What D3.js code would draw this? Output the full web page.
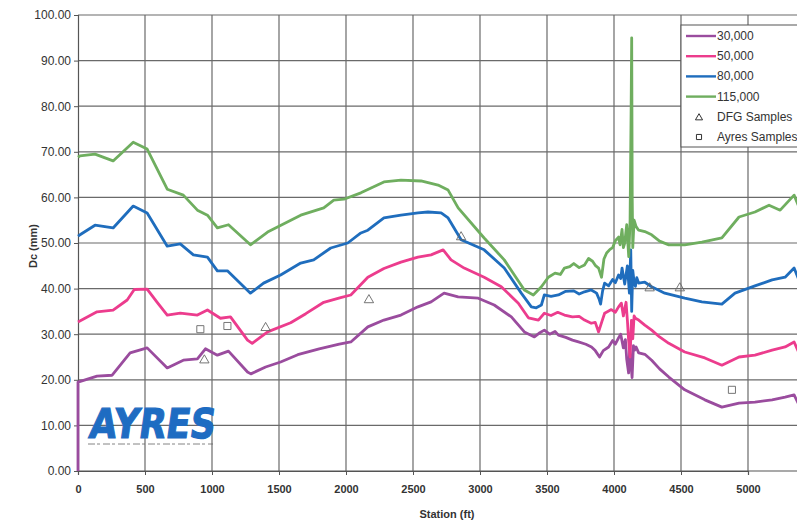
<!DOCTYPE html>
<html>
<head>
<meta charset="utf-8">
<script src="https://cdn.jsdelivr.net/npm/d3@7"></script>
<style>
  body { margin: 0; background: #fff; }
  svg { display: block; font-family: "Liberation Sans", Arial, sans-serif; }
</style>
</head>
<body>
<svg id="chart" width="797" height="524"></svg>
<script>
// [station (ft), Dc (mm)]
const flow30k = [[0,0],[0,19.5],[142,20.8],[255,21],[389,25.9],[516,27],[666,22.6],[786,24.3],[891,24.6],[951,26.8],[1040,25.4],[1123,26.3],[1265,21.7],[1290,21.3],[1400,22.8],[1512,23.9],[1640,25.5],[1800,26.8],[1950,27.8],[2036,28.3],[2163,31.6],[2283,33.1],[2410,34.2],[2537,36],[2635,37.1],[2732,39],[2837,38.2],[2987,37.9],[3106,36.4],[3234,33.8],[3331,30.5],[3406,29.4],[3440,30.2],[3480,30.9],[3520,30],[3560,30.6],[3585,29.8],[3640,29.3],[3690,28.7],[3735,28.3],[3790,27.8],[3832,27.2],[3860,26.4],[3892,25],[3920,26.4],[3960,27.2],[3990,28.6],[4010,27.8],[4034,29.2],[4050,30],[4070,27],[4085,28.8],[4095,24.5],[4109,21.5],[4118,27],[4125,24],[4135,20.5],[4145,27.5],[4154,26.5],[4165,27.2],[4184,25.9],[4230,25.6],[4281,24.3],[4340,22.4],[4409,20.6],[4528,17.8],[4678,15.6],[4805,14],[4933,14.9],[5052,15.1],[5180,15.6],[5277,16.2],[5344,16.7],[5380,14.5]];
const flow50k = [[0,32.7],[142,34.9],[262,35.3],[367,37.5],[420,39.8],[516,39.9],[591,37],[666,34.2],[763,34.6],[891,34.2],[966,35.3],[1063,33.5],[1138,33.8],[1265,28.7],[1300,28],[1415,30.5],[1587,32.5],[1700,34.5],[1834,37],[1960,38],[2036,38.6],[2163,42.5],[2283,44.4],[2410,45.8],[2537,46.9],[2635,47.4],[2725,48.5],[2784,46.3],[2882,44.5],[3031,42.5],[3159,40.4],[3286,36.8],[3361,33.6],[3436,33.1],[3480,34.6],[3530,34.1],[3580,34.8],[3630,34.2],[3690,33.8],[3740,33.9],[3780,33.1],[3830,32.4],[3860,32.6],[3885,30.5],[3910,32.8],[3930,34.6],[3980,35.4],[4010,34.8],[4034,36],[4055,36.8],[4070,34],[4090,37],[4100,33],[4109,28.7],[4120,25],[4130,33],[4140,29],[4150,34],[4160,33.5],[4184,33.1],[4230,32],[4281,30.9],[4340,29.4],[4409,28],[4528,26.1],[4678,24.8],[4805,23.2],[4933,25],[5052,25.4],[5180,26.5],[5277,27.2],[5344,28.3],[5380,25.9]];
const flow80k = [[0,51.5],[15,51.8],[127,53.9],[262,53.3],[412,58.1],[516,56.6],[666,49.3],[763,49.8],[861,47.4],[966,46.9],[1040,43.9],[1115,43.9],[1287,39],[1385,41.2],[1512,43],[1662,45.6],[1759,46.3],[1886,48.9],[2013,50],[2111,52.2],[2163,52.8],[2283,55.5],[2410,56.1],[2537,56.6],[2612,56.8],[2710,56.6],[2762,55.5],[2859,50.7],[3031,48.5],[3181,44.5],[3308,39],[3383,36],[3420,35.8],[3458,36.4],[3480,38.6],[3530,38.3],[3585,38.6],[3640,39.4],[3700,39.5],[3740,38.8],[3780,39.3],[3830,39.7],[3870,39],[3890,37.6],[3900,36.6],[3915,39.5],[3930,41.2],[3960,40.6],[3990,42],[4010,41.3],[4034,43],[4050,42.2],[4060,44.5],[4080,41],[4100,45],[4115,39],[4125,48.5],[4132,35],[4140,44],[4150,41.5],[4160,40.5],[4170,42.4],[4184,41.2],[4230,41.4],[4281,40.4],[4379,39],[4528,37.9],[4656,37.1],[4805,36.6],[4903,39],[5052,40.6],[5180,41.9],[5277,42.5],[5344,44.5],[5380,41.9]];
const flow115k = [[0,68.8],[15,69.1],[127,69.5],[262,68],[412,72.1],[516,70.6],[666,61.8],[786,60.5],[891,57.2],[966,56.1],[1040,53.3],[1123,54],[1287,49.6],[1415,52.4],[1662,56.1],[1834,57.7],[1909,59.4],[1984,59.6],[2111,61],[2283,63.4],[2410,63.8],[2560,63.6],[2687,62.7],[2762,61.6],[2837,57.7],[3031,51.1],[3181,46.3],[3331,39.7],[3398,38.6],[3458,40.4],[3510,42.5],[3560,43.4],[3600,43.1],[3630,44.5],[3670,44.8],[3700,45.5],[3740,44.6],[3780,45.2],[3810,46.6],[3840,46],[3860,45.1],[3885,44.5],[3907,42.5],[3925,46.5],[3945,47.8],[3970,48.6],[3990,49],[4010,50.5],[4034,51.3],[4045,49.6],[4060,53],[4070,49],[4080,50],[4095,54],[4110,47],[4120,55],[4128,80],[4132,95],[4136,60],[4140,49],[4150,55],[4165,53.6],[4184,52.8],[4230,52.5],[4281,51.8],[4340,50.4],[4409,49.6],[4528,49.6],[4656,50.2],[4805,51.1],[4933,55.7],[5052,56.8],[5157,58.3],[5240,57.2],[5344,60.5],[5380,57.9]];

const dfgSamples = [[943,24.3],[1400,31.4],[2171,37.5],[2859,51.3],[4266,40.1],[4491,40.1]];
const ayresSamples = [[913,31.1],[1115,31.8],[4880,17.8]];

const seriesNames = ['30,000', '50,000', '80,000', '115,000'];
const seriesData = [flow30k, flow50k, flow80k, flow115k];
const seriesColors = ['#9a4c9e', '#ec3c8d', '#1f6dbd', '#6fae5f'];

const xTicks = d3.range(0, 5001, 500);
const yTicks = d3.range(0, 101, 10);

const svg = d3.select('#chart');
const x = d3.scaleLinear().domain([0, 5000]).range([78, 748]);
const y = d3.scaleLinear().domain([0, 100]).range([471, 15]);
const right = 797;

// grid
const grid = svg.append('g').attr('class', 'grid');
grid.selectAll('.hgrid')
  .data(yTicks.filter(d => d > 0))
  .enter()
  .append('line')
  .attr('x1', x(0))
  .attr('x2', right)
  .attr('y1', d => y(d))
  .attr('y2', d => y(d))
  .attr('stroke', '#6a6a6a')
  .attr('stroke-width', 1.2);
grid.selectAll('.vgrid')
  .data(xTicks.filter(d => d > 0))
  .enter()
  .append('line')
  .attr('x1', d => x(d))
  .attr('x2', d => x(d))
  .attr('y1', y(100))
  .attr('y2', y(0))
  .attr('stroke', '#6a6a6a')
  .attr('stroke-width', 1.2);

// axes
const yAxis = svg.append('g')
  .attr('transform', `translate(${x(0)},0)`)
  .call(d3.axisLeft(y).tickValues(yTicks).tickFormat(d3.format('.2f')).tickSize(4).tickPadding(3));
const xAxis = svg.append('g')
  .attr('transform', `translate(0,${y(0)})`)
  .call(d3.axisBottom(x).tickValues(xTicks).tickFormat(d3.format('d')).tickSize(4).tickPadding(10));
svg.append('line')
  .attr('x1', x(0)).attr('x2', right)
  .attr('y1', y(0)).attr('y2', y(0))
  .attr('stroke', '#555').attr('stroke-width', 1.2);

[yAxis, xAxis].forEach(a => {
  a.select('.domain').attr('stroke', '#555').attr('stroke-width', 1.2);
  a.selectAll('.tick line').attr('stroke', '#555');
  a.selectAll('.tick text').attr('fill', '#333').style('font-family', '"Liberation Sans", Arial, sans-serif');
});
yAxis.selectAll('.tick text').style('font-size', '12px');
xAxis.selectAll('.tick text').style('font-size', '11px').style('font-weight', 'bold');

svg.append('text')
  .attr('x', 447)
  .attr('y', 518)
  .attr('text-anchor', 'middle')
  .attr('fill', '#333')
  .style('font-size', '11px')
  .style('font-weight', 'bold')
  .text('Station (ft)');
svg.append('text')
  .attr('transform', 'translate(37,246) rotate(-90)')
  .attr('text-anchor', 'middle')
  .attr('fill', '#333')
  .style('font-size', '11px')
  .style('font-weight', 'bold')
  .text('Dc (mm)');

// logo
const logo = svg.append('g').attr('transform', 'translate(88,438) skewX(-8)');
logo.append('text')
  .attr('x', 0)
  .attr('y', 0)
  .attr('fill', '#1e6cc2')
  .attr('stroke', '#1e6cc2')
  .attr('stroke-width', 1.2)
  .attr('textLength', 126)
  .attr('lengthAdjust', 'spacingAndGlyphs')
  .style('font-family', '"DejaVu Sans", sans-serif')
  .style('font-size', '41px')
  .style('font-weight', 'bold')
  .text('AYRES');
svg.append('line')
  .attr('x1', 88).attr('x2', 213)
  .attr('y1', 444).attr('y2', 444)
  .attr('stroke', '#666')
  .attr('stroke-width', 0.8)
  .attr('stroke-dasharray', '7,2,3,3');

// series lines
const line = d3.line().x(d => x(d[0])).y(d => y(d[1]));
svg.append('g')
  .selectAll('path')
  .data(seriesData)
  .enter()
  .append('path')
  .attr('d', line)
  .attr('fill', 'none')
  .attr('stroke', (d, i) => seriesColors[i])
  .attr('stroke-width', 2.8)
  .attr('stroke-linejoin', 'round');

// samples
const tri = d3.symbol().type(d3.symbolTriangle).size(38);
const sq = d3.symbol().type(d3.symbolSquare).size(50);
svg.append('g')
  .selectAll('path')
  .data(dfgSamples)
  .enter()
  .append('path')
  .attr('d', tri)
  .attr('transform', d => `translate(${x(d[0])},${y(d[1])})`)
  .attr('fill', 'none')
  .attr('stroke', '#666')
  .attr('stroke-width', 0.9);
svg.append('g')
  .selectAll('path')
  .data(ayresSamples)
  .enter()
  .append('path')
  .attr('d', sq)
  .attr('transform', d => `translate(${x(d[0])},${y(d[1])})`)
  .attr('fill', 'none')
  .attr('stroke', '#666')
  .attr('stroke-width', 0.9);

// legend
const legend = svg.append('g').attr('transform', 'translate(681,25)');
legend.append('rect')
  .attr('width', 130)
  .attr('height', 122)
  .attr('fill', '#fff')
  .attr('stroke', '#555')
  .attr('stroke-width', 1);
const rows = seriesNames.map((n, i) => ({ name: n, color: seriesColors[i], kind: 'line' }))
  .concat([{ name: 'DFG Samples', kind: 'tri' }, { name: 'Ayres Samples', kind: 'sq' }]);
const row = legend.selectAll('.row')
  .data(rows)
  .enter()
  .append('g')
  .attr('transform', (d, i) => `translate(0,${11 + i * 20.2})`);
row.filter(d => d.kind === 'line')
  .append('line')
  .attr('x1', 5).attr('x2', 35)
  .attr('stroke', d => d.color)
  .attr('stroke-width', 2.4);
row.filter(d => d.kind === 'tri')
  .append('path')
  .attr('d', d3.symbol().type(d3.symbolTriangle).size(22))
  .attr('transform', 'translate(18,1)')
  .attr('fill', 'none').attr('stroke', '#333').attr('stroke-width', 1);
row.filter(d => d.kind === 'sq')
  .append('path')
  .attr('d', d3.symbol().type(d3.symbolSquare).size(26))
  .attr('transform', 'translate(18,0)')
  .attr('fill', 'none').attr('stroke', '#333').attr('stroke-width', 1);
row.append('text')
  .attr('x', 36)
  .attr('y', 4)
  .attr('fill', '#333')
  .style('font-size', '12px')
  .text(d => d.name);
</script>
</body>
</html>
